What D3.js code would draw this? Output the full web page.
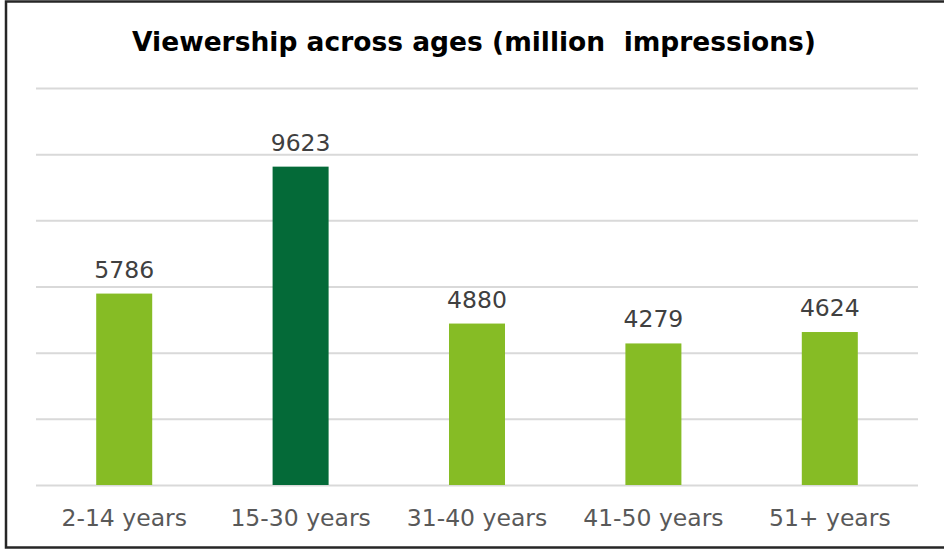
<!DOCTYPE html>
<html>
<head>
<meta charset="utf-8">
<script src="https://cdn.jsdelivr.net/npm/d3@7"></script>
<style>
  html, body { margin: 0; padding: 0; background: #fff; }
  svg { display: block; }
</style>
</head>
<body>
<svg id="chart" width="944" height="550"></svg>
<script>
// Viewership by age group, in million impressions
const categories = ["2-14 years", "15-30 years", "31-40 years", "41-50 years", "51+ years"];
const values = [5786, 9623, 4880, 4279, 4624];
const highlight = "15-30 years";
const yTicks = [0, 2000, 4000, 6000, 8000, 10000, 12000];

const svg = d3.select("#chart");
const W = 944, H = 550;

// outer frame
svg.append("rect")
  .attr("x", 6).attr("y", 1.5)
  .attr("width", W + 10).attr("height", 546)
  .attr("fill", "#fff")
  .attr("stroke", "#262626")
  .attr("stroke-width", 2.5);

const x = d3.scaleBand()
  .domain(categories)
  .range([36, 918])
  .paddingInner(0.6825)
  .paddingOuter(0.6825 / 2);

const y = d3.scaleLinear()
  .domain([0, 12000])
  .range([485, 88]);

// title
svg.append("text")
  .attr("x", 474).attr("y", 51)
  .attr("text-anchor", "middle")
  .attr("font-family", "DejaVu Sans")
  .attr("font-weight", "bold")
  .attr("font-size", 26.5)
  .attr("fill", "#000")
  .attr("xml:space", "preserve")
  .text("Viewership across ages (million  impressions)");

// horizontal gridlines
const yAxis = d3.axisLeft(y).tickValues(yTicks).tickSize(-(918 - 36)).tickFormat("");
const gy = svg.append("g").attr("transform", "translate(36,0)").call(yAxis);
gy.select(".domain").remove();
gy.selectAll(".tick line").attr("stroke", "#d9d9d9").attr("stroke-width", 2);

// bars
svg.append("g").selectAll("rect")
  .data(categories)
  .join("rect")
  .attr("x", d => x(d))
  .attr("width", x.bandwidth())
  .attr("y", (d, i) => y(values[i]))
  .attr("height", (d, i) => y(0) - y(values[i]))
  .attr("fill", d => d === highlight ? "#046a38" : "#86bc25");

// value labels
svg.append("g").selectAll("text")
  .data(categories)
  .join("text")
  .attr("x", d => x(d) + x.bandwidth() / 2)
  .attr("y", (d, i) => y(values[i]) - 16)
  .attr("text-anchor", "middle")
  .attr("font-family", "DejaVu Sans")
  .attr("font-size", 23.5)
  .attr("fill", "#404040")
  .text((d, i) => values[i]);

// category axis
const xAxis = d3.axisBottom(x).tickSize(0).tickPadding(0);
const gx = svg.append("g").attr("transform", "translate(0,485)").call(xAxis);
gx.select(".domain").remove();
gx.selectAll(".tick text")
  .attr("dy", null)
  .attr("y", 41)
  .attr("font-family", "DejaVu Sans")
  .attr("font-size", 23.5)
  .attr("fill", "#595959");
</script>
</body>
</html>
